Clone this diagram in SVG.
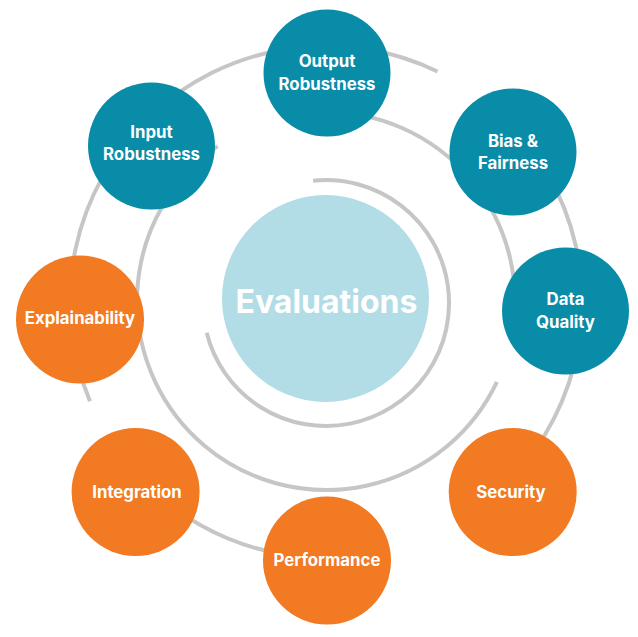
<svg xmlns="http://www.w3.org/2000/svg" width="638" height="637" viewBox="0 0 638 637">
<style>
.ring{fill:none;stroke:#c6c6c6;stroke-width:4;}
.blue{fill:#088ca8;}
.orange{fill:#f17a22;}
.lbl{font-family:Inter,"Noto Sans",sans-serif;font-weight:700;font-size:16.8px;fill:#ffffff;text-anchor:middle;}
.center-lbl{font-family:Inter,"Noto Sans",sans-serif;font-weight:700;font-size:32px;fill:#ffffff;text-anchor:middle;}
</style>
<rect width="638" height="637" fill="#ffffff"/>
<g id="connectors">
<path class="ring" d="M 90 401.2 A 256 256 0 0 1 437.4 71.5"/>
<path class="ring" d="M 547.7 174 A 256 256 0 0 1 522.1 466.6"/>
<path class="ring" d="M 326 558 A 256 256 0 0 1 145 483"/>
<path class="ring" d="M 326 112 A 189 189 0 0 1 512.1 333.8"/>
<path class="ring" d="M 496.9 381.8 A 189 189 0 1 1 217.6 146.2"/>
<path class="ring" d="M 313.1 180.7 A 123 123 0 1 1 206.7 332.8"/>
</g>
<g id="evaluations">
<circle cx="325.5" cy="298.5" r="103.5" fill="#b2dce6"/>
<text class="center-lbl" x="326.5" y="313">Evaluations</text>
</g>
<g id="output-robustness">
<circle class="blue" cx="327" cy="73" r="63.5"/>
<text class="lbl" x="327" y="67">Output</text>
<text class="lbl" x="327" y="90">Robustness</text>
</g>
<g id="input-robustness">
<circle class="blue" cx="151.5" cy="146" r="63.5"/>
<text class="lbl" x="151.5" y="137.5">Input</text>
<text class="lbl" x="151.5" y="160">Robustness</text>
</g>
<g id="bias-fairness">
<circle class="blue" cx="513" cy="152" r="63.5"/>
<text class="lbl" x="513" y="146.5">Bias &amp;</text>
<text class="lbl" x="513" y="169">Fairness</text>
</g>
<g id="data-quality">
<circle class="blue" cx="565.5" cy="311" r="63.5"/>
<text class="lbl" x="565.5" y="305">Data</text>
<text class="lbl" x="565.5" y="328">Quality</text>
</g>
<g id="explainability">
<circle class="orange" cx="80" cy="319.5" r="64"/>
<text class="lbl" x="80" y="324">Explainability</text>
</g>
<g id="integration">
<circle class="orange" cx="135.6" cy="492" r="64"/>
<text class="lbl" x="137" y="498">Integration</text>
</g>
<g id="performance">
<circle class="orange" cx="327" cy="560.5" r="64"/>
<text class="lbl" x="327" y="566">Performance</text>
</g>
<g id="security">
<circle class="orange" cx="512.7" cy="492" r="64"/>
<text class="lbl" x="511" y="498">Security</text>
</g>
</svg>
